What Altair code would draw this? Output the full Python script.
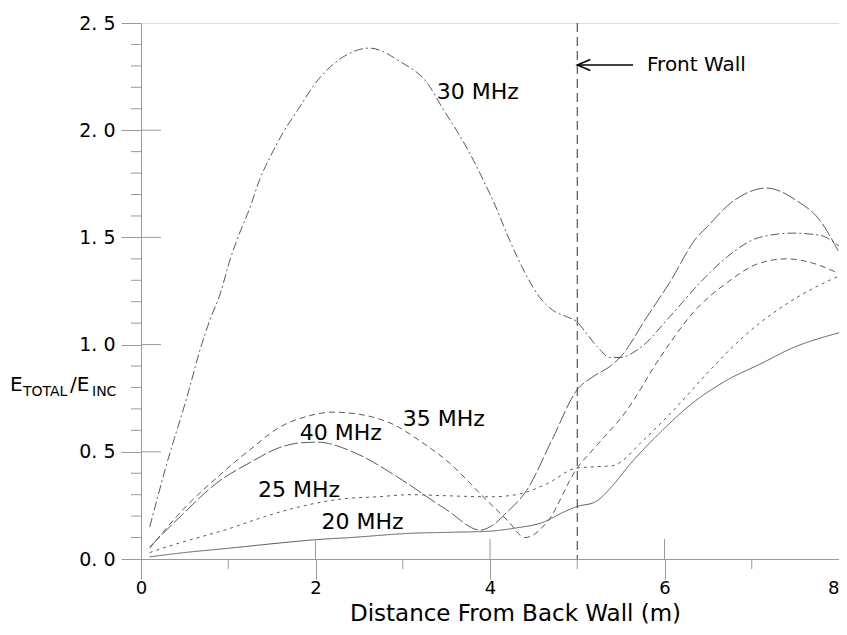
import altair as alt
import pandas as pd

# ---- data ----
x20 = [0.1, 0.5, 1.0, 1.6, 2.0, 2.4, 3.1, 3.6, 4.0, 4.3, 4.6, 4.85, 5.0, 5.2, 5.4, 5.6, 5.95, 6.33, 6.72, 7.1, 7.47, 8.0]
y20 = [0.01, 0.03, 0.05, 0.075, 0.09, 0.10, 0.12, 0.125, 0.13, 0.145, 0.17, 0.22, 0.245, 0.265, 0.34, 0.44, 0.59, 0.73, 0.835, 0.91, 0.985, 1.055]

x25 = [0.1, 0.4, 0.7, 1.0, 1.25, 1.6, 2.0, 2.3, 2.7, 3.1, 3.5, 4.0, 4.3, 4.65, 5.0, 5.2, 5.4, 5.76, 6.14, 6.52, 6.9, 7.29, 7.67, 8.0]
y25 = [0.03, 0.07, 0.105, 0.14, 0.175, 0.22, 0.26, 0.28, 0.29, 0.30, 0.295, 0.29, 0.30, 0.35, 0.425, 0.43, 0.435, 0.555, 0.71, 0.88, 1.035, 1.16, 1.255, 1.32]

x30 = [0.1, 0.3, 0.53, 0.68, 0.79, 0.91, 1.02, 1.13, 1.25, 1.36, 1.48, 1.63, 1.79, 2.02, 2.31, 2.62, 2.97, 3.28, 3.46, 3.66, 3.81, 3.92, 4.08, 4.19, 4.31, 4.42, 4.57, 4.72, 4.88, 5.0, 5.11, 5.23, 5.38, 5.49, 5.72, 6.06, 6.41, 6.72, 7.09, 7.47, 7.78, 8.0]
y30 = [0.15, 0.45, 0.76, 0.98, 1.115, 1.24, 1.395, 1.52, 1.64, 1.77, 1.875, 1.99, 2.09, 2.23, 2.34, 2.383, 2.32, 2.22, 2.10, 1.97, 1.86, 1.77, 1.63, 1.52, 1.41, 1.32, 1.22, 1.16, 1.13, 1.105, 1.05, 0.99, 0.94, 0.94, 0.985, 1.13, 1.29, 1.41, 1.50, 1.52, 1.51, 1.46]

x35 = [0.1, 0.48, 0.87, 1.25, 1.59, 1.9, 2.2, 2.5, 2.93, 3.2, 3.5, 3.96, 4.2, 4.4, 4.65, 5.0, 5.18, 5.57, 5.95, 6.33, 6.72, 7.09, 7.4, 7.7, 7.98]
y35 = [0.05, 0.23, 0.38, 0.51, 0.615, 0.665, 0.685, 0.675, 0.62, 0.55, 0.46, 0.275, 0.18, 0.10, 0.17, 0.425, 0.51, 0.695, 0.94, 1.15, 1.29, 1.38, 1.40, 1.38, 1.335]

x40 = [0.1, 0.48, 0.87, 1.25, 1.59, 1.79, 2.02, 2.48, 2.93, 3.5, 3.89, 4.0, 4.2, 4.42, 4.71, 5.0, 5.18, 5.38, 5.49, 5.8, 6.06, 6.37, 6.49, 6.79, 7.17, 7.52, 7.78, 8.0]
y40 = [0.056, 0.21, 0.355, 0.45, 0.52, 0.54, 0.545, 0.49, 0.385, 0.23, 0.135, 0.15, 0.22, 0.32, 0.555, 0.79, 0.85, 0.9, 0.94, 1.13, 1.29, 1.50, 1.55, 1.67, 1.73, 1.67, 1.58, 1.43]

series_names = ["20 MHz", "25 MHz", "30 MHz", "35 MHz", "40 MHz"]
series_dash = [[1, 0], [3, 4], [9, 3, 2, 3], [6, 4], [14, 3]]

label_text = ["30 MHz", "35 MHz", "40 MHz", "25 MHz", "20 MHz"]
label_x = [3.39, 3.0, 1.82, 1.34, 2.07]
label_y = [2.18, 0.653, 0.588, 0.322, 0.173]

x_major = [0, 2, 4, 6, 8]
x_minor = [1, 3, 5, 7]
x_inner = [2, 4, 6]
y_major = [0.0, 0.5, 1.0, 1.5, 2.0, 2.5]
y_inner = [0.5, 1.0, 1.5, 2.0]
y_minor = [0.1, 0.2, 0.3, 0.4, 0.6, 0.7, 0.8, 0.9, 1.1, 1.2, 1.3, 1.4,
           1.6, 1.7, 1.8, 1.9, 2.1, 2.2, 2.3, 2.4]

wall_x = 5.0
arrow_x = [5.0, 5.64]
arrow_y = 2.304
arrow_head_x = 5.075
wall_label_x = 5.80

ytitle_parts = ["E", "TOTAL", "/E", "INC"]
ytitle_sizes = [20, 14, 20, 14]

W, H = 698, 536
FONT = "DejaVu Sans"
AX = "#9a9a9a"
LINE = "#5a5a5a"

rows = []
for name, xs_, ys_ in zip(series_names, [x20, x25, x30, x35, x40], [y20, y25, y30, y35, y40]):
    for i, (a, b) in enumerate(zip(xs_, ys_)):
        rows.append({"series": name, "x": a, "y": b, "order": i})
df = pd.DataFrame(rows)

xs = alt.Scale(domain=[0, 8], nice=False, zero=False)
ys = alt.Scale(domain=[0, 2.5], nice=False, zero=False)

X_AX = alt.Axis(
    values=x_major, tickSize=20, tickColor=AX, domainColor=AX, grid=False,
    labelFont=FONT, labelFontSize=18, labelColor="black", labelPadding=0,
    labelFlush=False, format="d",
    labelAlign=alt.condition("datum.value == 8", alt.value("right"), alt.value("center")),
    title="Distance From Back Wall (m)", titleFont=FONT, titleFontSize=23,
    titleFontWeight="normal", titleColor="black", titleX=374, titleY=61,
    titleBaseline="alphabetic", titleAlign="center")
Y_AX = alt.Axis(
    values=y_major, tickSize=20, tickColor=AX, domainColor=AX, grid=False,
    labelFont=FONT, labelFontSize=19, labelColor="black", labelPadding=6,
    labelExpr="replace(format(datum.value, '.1f'), '.', '. ')",
    labelFlush=False, title=None)


def X(field):
    return alt.X(field, scale=xs, axis=X_AX, title="Distance From Back Wall (m)")


def Y(field):
    return alt.Y(field, scale=ys, axis=Y_AX, title=None)


lines = alt.Chart(df).mark_line(strokeWidth=1, color=LINE, interpolate="monotone").encode(
    x=X("x:Q"),
    y=Y("y:Q"),
    detail="series:N",
    order="order:Q",
    strokeDash=alt.StrokeDash("series:N", scale=alt.Scale(domain=series_names, range=series_dash), legend=None),
)

xin = alt.Chart(pd.DataFrame({"x": x_inner})).mark_rule(color=AX, strokeWidth=1).encode(
    x=X("x:Q"), y=alt.value(H - 20), y2=alt.value(H))
xmin = alt.Chart(pd.DataFrame({"x": x_minor})).mark_rule(color=AX, strokeWidth=1).encode(
    x=X("x:Q"), y=alt.value(H), y2=alt.value(H + 10))
yin = alt.Chart(pd.DataFrame({"y": y_inner})).mark_rule(color=AX, strokeWidth=1).encode(
    y=Y("y:Q"), x=alt.value(0), x2=alt.value(20))
ymin = alt.Chart(pd.DataFrame({"y": y_minor})).mark_rule(color=AX, strokeWidth=1).encode(
    y=Y("y:Q"), x=alt.value(-10), x2=alt.value(0))

wall = alt.Chart(pd.DataFrame({"x": [wall_x]})).mark_rule(color="#333333", strokeWidth=1, strokeDash=[9, 5]).encode(
    x=X("x:Q"), y=alt.value(0), y2=alt.value(H))

arrow = alt.Chart(pd.DataFrame({"x": [arrow_x[0]], "x2": [arrow_x[1]], "y": [arrow_y]})).mark_rule(
    color="black", strokeWidth=1.5).encode(
    x=X("x:Q"), x2="x2:Q", y=Y("y:Q"))
head = alt.Chart(pd.DataFrame({"x": [arrow_head_x], "y": [arrow_y]})).mark_point(
    shape="M 1 -0.85 L -1 0 L 1 0.85", filled=False, stroke="black", strokeWidth=1.5, size=169, opacity=1).encode(
    x=X("x:Q"), y=Y("y:Q"))
wall_lbl = alt.Chart(pd.DataFrame({"x": [wall_label_x], "y": [arrow_y], "t": ["Front Wall"]})).mark_text(
    font=FONT, fontSize=20, align="left", baseline="middle", color="black").encode(
    x=X("x:Q"), y=Y("y:Q"), text="t:N")

labels = alt.Chart(pd.DataFrame({"x": label_x, "y": label_y, "t": label_text})).mark_text(
    font=FONT, fontSize=22, align="left", baseline="middle", color="black").encode(
    x=X("x:Q"), y=Y("y:Q"), text="t:N")

# composed y-axis title with subscripts
yt_x = [-131, -118, -71, -49]
yt_y = [368, 373, 368, 373]
ytitle = [
    alt.Chart(pd.DataFrame({"t": [t]})).mark_text(
        font=FONT, fontSize=s, align="left", baseline="alphabetic", color="black").encode(
        x=alt.value(px), y=alt.value(py), text="t:N")
    for t, s, px, py in zip(ytitle_parts, ytitle_sizes, yt_x, yt_y)
]

chart = alt.layer(lines, xin, xmin, yin, ymin, wall, arrow, head, wall_lbl, labels, *ytitle).properties(
    width=W, height=H,
    autosize=alt.AutoSizeParams(type="none"),
    padding={"left": 133, "top": 15, "right": 0, "bottom": 66},
).configure_view(stroke=AX, strokeWidth=1).configure(background="white")

chart.save("out.html", embed_options={"renderer": "svg", "actions": False})
